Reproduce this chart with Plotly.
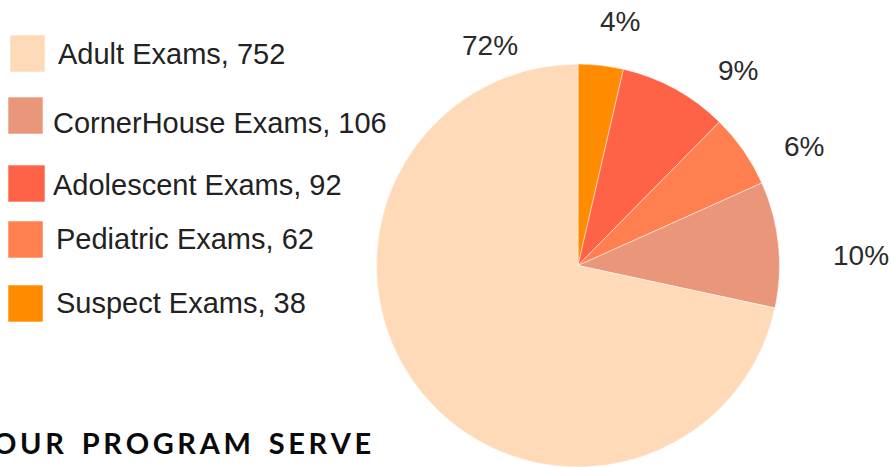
import plotly.graph_objects as go

W, H = 891, 467

# Data (clockwise from 12 o'clock)
labels = ["Suspect Exams", "Adolescent Exams", "Pediatric Exams", "CornerHouse Exams", "Adult Exams"]
values = [38, 92, 62, 106, 752]
colors = ["#FF8C00", "#FF6347", "#FF7F50", "#E9967A", "#FFDAB9"]

# Legend order (top to bottom)
legend_order = ["Adult Exams", "CornerHouse Exams", "Adolescent Exams", "Pediatric Exams", "Suspect Exams"]
title_text = "OUR PROGRAM SERVE"

total = sum(values)
pcts = {l: round(v / total * 100) for l, v in zip(labels, values)}

fig = go.Figure()
fig.add_trace(go.Pie(
    labels=labels, values=values, sort=False, direction="clockwise", rotation=0,
    marker=dict(colors=colors, line=dict(color="rgba(255,255,255,0.6)", width=0.8)),
    textinfo="none", hoverinfo="label+value+percent", showlegend=False,
    domain=dict(x=[376 / W, 780 / W], y=[0, 403 / H]),
))

def px(x):
    return x / W

def py(y):
    return 1 - y / H

annotations = []
# Percent labels
pct_pos = {
    "Adult Exams": (490, 46),
    "Suspect Exams": (620, 21),
    "Adolescent Exams": (738, 70),
    "Pediatric Exams": (804, 147),
    "CornerHouse Exams": (861, 255),
}
for l in labels:
    x, y = pct_pos[l]
    annotations.append(dict(x=px(x), y=py(y), xref="paper", yref="paper", text=f"{pcts[l]}%",
                            showarrow=False, xanchor="center", yanchor="middle",
                            font=dict(family="Liberation Sans, Arial, sans-serif", size=28, color="#2b2b2b")))

# Custom legend
legend_geom = {
    "Adult Exams": (10, 35, 45, 72, 56, 54),
    "CornerHouse Exams": (8, 97, 43, 134, 51, 123),
    "Adolescent Exams": (8, 165, 45, 202, 51, 185),
    "Pediatric Exams": (8, 221, 43, 258, 54, 239),
    "Suspect Exams": (8, 285, 43, 322, 54, 303),
}
shapes = []
color_map = dict(zip(labels, colors))
value_map = dict(zip(labels, values))
for l in legend_order:
    x0, y0, x1, y1, tx, ty = legend_geom[l]
    shapes.append(dict(type="rect", xref="paper", yref="paper", x0=px(x0), x1=px(x1), y0=py(y1), y1=py(y0),
                       fillcolor=color_map[l], line=dict(width=0.8, color="rgba(255,255,255,0.7)")))
    annotations.append(dict(x=px(tx), y=py(ty), xref="paper", yref="paper", text=f"{l}, {value_map[l]}",
                            showarrow=False, xanchor="left", yanchor="middle",
                            font=dict(family="Liberation Sans, Arial, sans-serif", size=29, color="#222222")))

# Bottom title, letter-spaced
spaced = "\u2009 \u2009\u2009".join("\u2009".join(list(w)) for w in title_text.split(" "))
annotations.append(dict(x=px(-9), y=py(442), xref="paper", yref="paper", text="<b>" + spaced + "</b>",
                        showarrow=False, xanchor="left", yanchor="middle",
                        font=dict(family="Lato, Open Sans, sans-serif", size=29, color="#0a0a0a")))

fig.update_layout(
    width=W, height=H, margin=dict(l=0, r=0, t=0, b=0),
    paper_bgcolor="white", plot_bgcolor="white",
    shapes=shapes, annotations=annotations, showlegend=False,
)

fig.write_html("out.html", config={"displayModeBar": False},
               post_script="document.body.style.margin='0';document.body.style.overflow='hidden';")
